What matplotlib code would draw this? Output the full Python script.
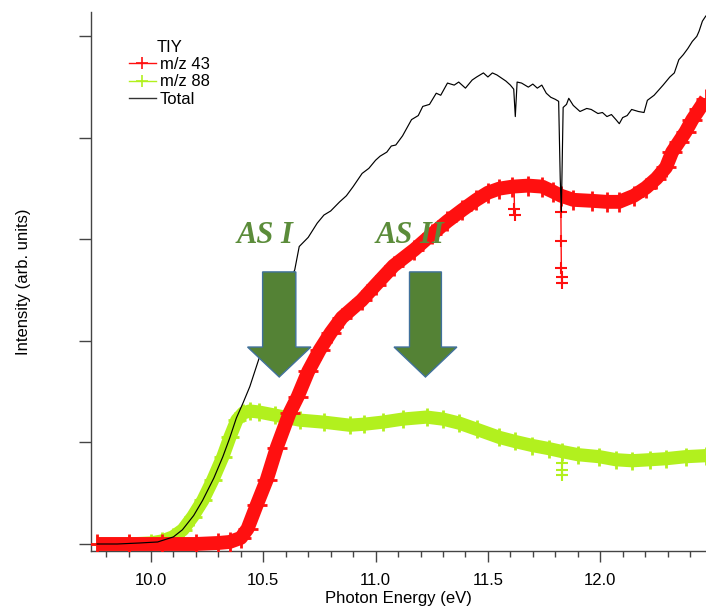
import matplotlib
matplotlib.use("Agg")
import matplotlib.pyplot as plt
from matplotlib.patches import Polygon
from matplotlib.lines import Line2D

plt.rcParams['font.family'] = ['Liberation Sans', 'DejaVu Sans']

# ---------------- data ----------------
total_e = [9.76, 9.85, 9.95, 10.03, 10.10, 10.14, 10.19, 10.23, 10.28, 10.32, 10.35, 10.38,
           10.41, 10.44, 10.48, 10.55, 10.64, 10.66, 10.70, 10.74, 10.77, 10.80, 10.84, 10.87,
           10.90, 10.94, 10.97, 11.00, 11.02, 11.05, 11.07, 11.09, 11.12, 11.14, 11.16, 11.19,
           11.21, 11.24, 11.27, 11.29, 11.32, 11.35, 11.37, 11.40, 11.43, 11.45, 11.48, 11.50,
           11.52, 11.54, 11.56, 11.58, 11.60, 11.615, 11.622, 11.63, 11.65, 11.68, 11.70, 11.72,
           11.74, 11.76, 11.78, 11.80, 11.815, 11.822, 11.827, 11.835, 11.85, 11.86, 11.88, 11.91,
           11.94, 11.96, 11.99, 12.01, 12.03, 12.05, 12.07, 12.085, 12.10, 12.12, 12.14, 12.17,
           12.195, 12.21, 12.24, 12.26, 12.28, 12.31, 12.33, 12.35, 12.37, 12.39, 12.41, 12.43,
           12.44, 12.455, 12.47]
total_y = [0.00, 0.00, 0.01, 0.02, 0.07, 0.14, 0.28, 0.43, 0.65, 0.86, 1.04, 1.24,
           1.39, 1.55, 1.82, 2.25, 2.70, 2.93, 3.02, 3.16, 3.24, 3.28, 3.37, 3.43,
           3.52, 3.65, 3.70, 3.78, 3.82, 3.86, 3.92, 3.93, 4.02, 4.10, 4.18, 4.22,
           4.31, 4.33, 4.44, 4.42, 4.54, 4.52, 4.55, 4.49, 4.57, 4.60, 4.64, 4.60,
           4.64, 4.62, 4.59, 4.56, 4.52, 4.48, 4.21, 4.55, 4.54, 4.50, 4.53, 4.49,
           4.52, 4.44, 4.40, 4.38, 4.36, 3.60, 3.27, 4.30, 4.33, 4.39, 4.32, 4.26,
           4.29, 4.28, 4.24, 4.25, 4.21, 4.23, 4.18, 4.14, 4.20, 4.22, 4.28, 4.26,
           4.25, 4.37, 4.42, 4.47, 4.52, 4.60, 4.64, 4.77, 4.82, 4.88, 4.95, 5.00,
           5.05, 5.15, 5.20]

m43_e = [9.76, 9.90, 10.05, 10.20, 10.30, 10.35, 10.40, 10.43, 10.47, 10.515, 10.56, 10.617,
         10.653, 10.70, 10.751, 10.80, 10.85, 10.938, 11.00, 11.08, 11.173, 11.25, 11.32,
         11.386, 11.449, 11.50, 11.55, 11.609, 11.68, 11.742, 11.79, 11.826, 11.88, 11.964,
         12.03, 12.084, 12.15, 12.204, 12.25, 12.293, 12.32, 12.35, 12.38, 12.41, 12.44, 12.47]
m43_y = [0.00, 0.00, 0.00, 0.00, 0.01, 0.02, 0.06, 0.15, 0.38, 0.63, 0.95, 1.29,
         1.45, 1.70, 1.91, 2.08, 2.23, 2.40, 2.55, 2.74, 2.90, 3.05, 3.18,
         3.29, 3.39, 3.46, 3.50, 3.52, 3.53, 3.52, 3.47, 3.43, 3.39, 3.38,
         3.37, 3.37, 3.43, 3.51, 3.60, 3.71, 3.86, 3.96, 4.06, 4.18, 4.28, 4.38]
# isolated low points (glitches) of m/z 43
m43_dip1_e = [11.617, 11.618, 11.619]
m43_dip1_y = [3.52, 3.30, 3.24]
m43_dip2_e = [11.825, 11.826, 11.827, 11.828, 11.829]
m43_dip2_y = [3.27, 2.98, 2.72, 2.63, 2.57]

m88_e = [9.76, 9.90, 10.00, 10.05, 10.098, 10.142, 10.186, 10.231, 10.275, 10.32, 10.351,
         10.382, 10.41, 10.44, 10.48, 10.55, 10.662, 10.77, 10.884, 10.95, 11.031, 11.12,
         11.227, 11.30, 11.373, 11.45, 11.551, 11.62, 11.698, 11.77, 11.831, 11.90, 11.996,
         12.07, 12.142, 12.22, 12.293, 12.38, 12.47]
m88_y = [0.00, 0.00, 0.01, 0.03, 0.07, 0.14, 0.27, 0.43, 0.63, 0.86, 1.05,
         1.22, 1.29, 1.31, 1.30, 1.27, 1.22, 1.20, 1.17, 1.18, 1.20, 1.23,
         1.25, 1.23, 1.19, 1.13, 1.05, 1.01, 0.97, 0.94, 0.91, 0.88, 0.86,
         0.83, 0.82, 0.83, 0.84, 0.86, 0.87]
m88_dip_e = [11.830, 11.831, 11.832]
m88_dip_y = [0.80, 0.73, 0.68]

x_ticks = [10.0, 10.5, 11.0, 11.5, 12.0]
x_tick_labels = ["10.0", "10.5", "11.0", "11.5", "12.0"]
y_ticks = [0, 1, 2, 3, 4, 5]

RED = '#ff1010'
LIME = '#b2f01e'
ARROW_FILL = '#548235'
ARROW_EDGE = '#41719c'
TEXT_GREEN = '#5b8c3a'

# ---------------- figure ----------------
fig = plt.figure(figsize=(7.06, 6.10), dpi=100)
ax = fig.add_axes([91/706, 59/610, 615/706, 539/610])

# m/z 88 band
ax.plot(m88_e, m88_y, color=LIME, lw=9.5, solid_capstyle='butt', zorder=2)
ax.plot(m88_e, m88_y, ls='none', marker='+', ms=13, mew=2, color=LIME, zorder=2)
ax.plot(m88_dip_e, m88_dip_y, color=LIME, lw=1, marker='+', ms=9, mew=1.5, zorder=2)

# m/z 43 band
ax.plot(m43_e, m43_y, color=RED, lw=10, solid_capstyle='butt', zorder=3)
ax.plot(m43_e, m43_y, ls='none', marker='+', ms=14, mew=2, color=RED, zorder=3)
ax.plot(m43_dip1_e, m43_dip1_y, color=RED, lw=1, marker='+', ms=9, mew=1.5, zorder=3)
ax.plot(m43_dip2_e, m43_dip2_y, color=RED, lw=1, marker='+', ms=9, mew=1.5, zorder=3)

# Total
ax.plot(total_e, total_y, color='black', lw=0.85, zorder=4)

# arrows (annotation shapes, data coords)
def down_arrow(xc, shaft_w, head_w, y_top, y_head, y_tip):
    pts = [(xc - shaft_w/2, y_top), (xc + shaft_w/2, y_top), (xc + shaft_w/2, y_head),
           (xc + head_w/2, y_head), (xc, y_tip), (xc - head_w/2, y_head),
           (xc - shaft_w/2, y_head)]
    return Polygon(pts, closed=True, facecolor=ARROW_FILL, edgecolor=ARROW_EDGE,
                   lw=1.0, zorder=5)

ax.add_patch(down_arrow(10.571, 0.148, 0.282, 2.68, 1.94, 1.645))
ax.add_patch(down_arrow(11.222, 0.142, 0.28, 2.68, 1.94, 1.645))

ax.text(10.506, 2.96, "AS I", fontsize=22, fontweight='bold', fontstyle='italic',
        family=['Liberation Serif', 'DejaVu Serif'], color=TEXT_GREEN,
        ha='center', va='baseline', zorder=6)
ax.text(11.155, 2.96, "AS II", fontsize=22, fontweight='bold', fontstyle='italic',
        family=['Liberation Serif', 'DejaVu Serif'], color=TEXT_GREEN,
        ha='center', va='baseline', zorder=6)

# axes styling
ax.set_xlim(9.733, 12.471)
ax.set_ylim(-0.069, 5.24)
for s in ['top', 'right']:
    ax.spines[s].set_visible(False)
for s in ['left', 'bottom']:
    ax.spines[s].set_color('#444444')
    ax.spines[s].set_linewidth(1.0)

ax.set_xticks(x_ticks)
ax.set_xticklabels(x_tick_labels)
ax.set_xticks([v/10 for v in range(98, 125)], minor=True)
ax.set_yticks(y_ticks)
ax.set_yticklabels([])
ax.tick_params(axis='x', which='major', direction='out', length=8, width=1.0,
               color='#444444', labelsize=12, pad=8)
ax.tick_params(axis='x', which='minor', direction='out', length=4.5, width=1.0,
               color='#444444')
ax.tick_params(axis='y', which='major', direction='out', length=9, width=1.0,
               color='#444444')

ax.set_xlabel("Photon Energy (eV)", fontsize=12, labelpad=2)
ax.set_ylabel("Intensity (arb. units)", fontsize=12, labelpad=31)

handles = [Line2D([], [], color=RED, lw=1, marker='+', ms=9, mew=1.2),
           Line2D([], [], color=LIME, lw=1, marker='+', ms=9, mew=1.2),
           Line2D([], [], color='#333333', lw=1)]
leg = ax.legend(handles, ["m/z 43", "m/z 88", "Total"], title="TIY",
                loc='upper left', bbox_to_anchor=(0.062, 0.948), frameon=False,
                fontsize=12, title_fontsize=12, handlelength=1.6, handletextpad=0.25,
                labelspacing=0.13, borderpad=0, borderaxespad=0)

fig.savefig("out.png", dpi=100)
